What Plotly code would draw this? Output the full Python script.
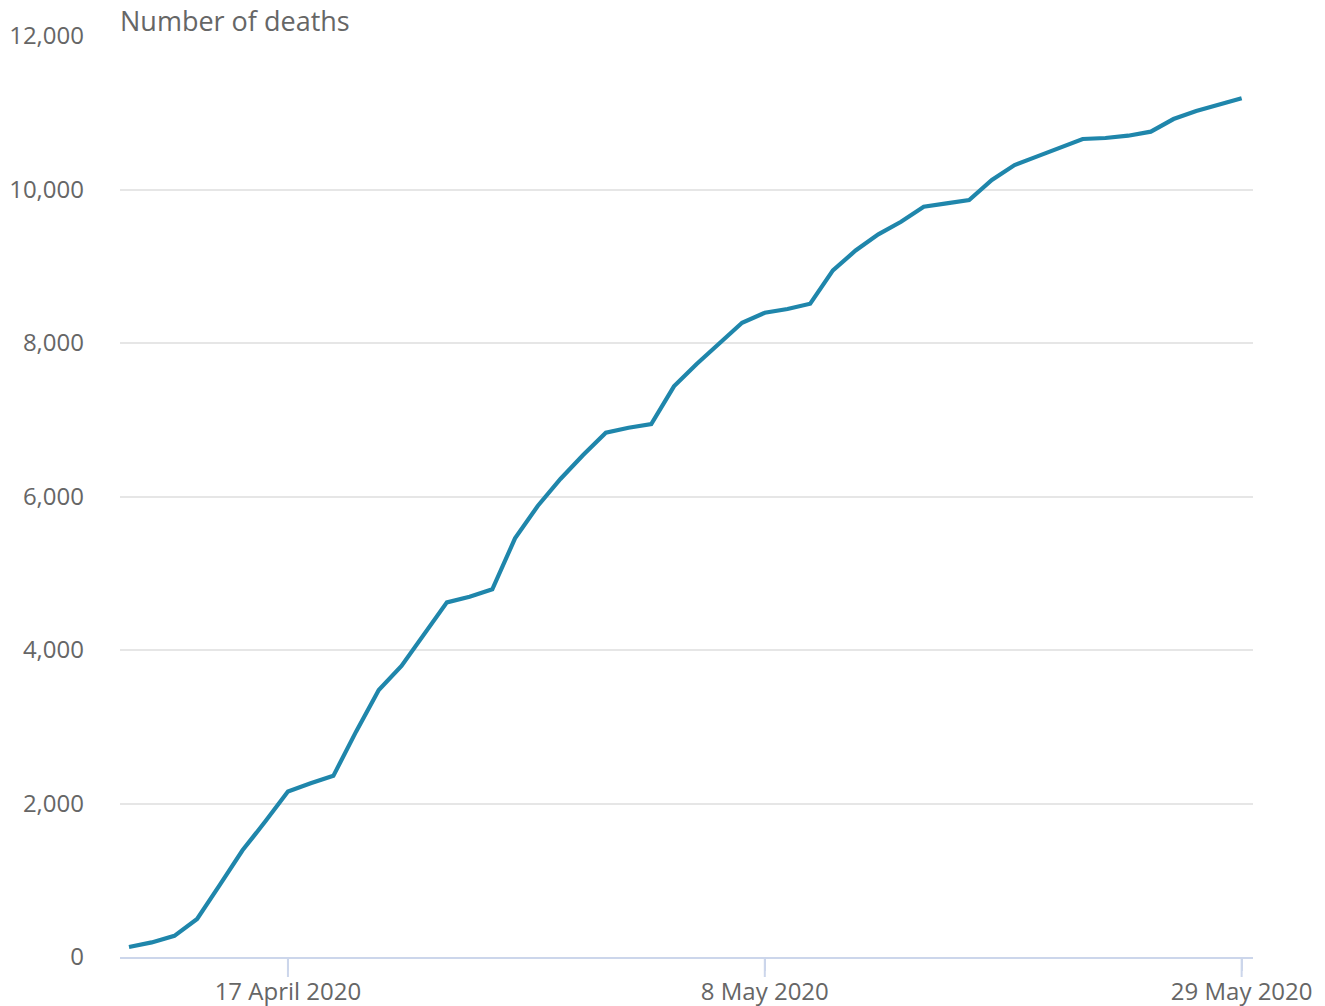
import plotly.graph_objects as go

dates = [
    "2020-04-10", "2020-04-11", "2020-04-12", "2020-04-13", "2020-04-14",
    "2020-04-15", "2020-04-16", "2020-04-17", "2020-04-18", "2020-04-19",
    "2020-04-20", "2020-04-21", "2020-04-22", "2020-04-23", "2020-04-24",
    "2020-04-25", "2020-04-26", "2020-04-27", "2020-04-28", "2020-04-29",
    "2020-04-30", "2020-05-01", "2020-05-02", "2020-05-03", "2020-05-04",
    "2020-05-05", "2020-05-06", "2020-05-07", "2020-05-08", "2020-05-09",
    "2020-05-10", "2020-05-11", "2020-05-12", "2020-05-13", "2020-05-14",
    "2020-05-15", "2020-05-16", "2020-05-17", "2020-05-18", "2020-05-19",
    "2020-05-20", "2020-05-21", "2020-05-22", "2020-05-23", "2020-05-24",
    "2020-05-25", "2020-05-26", "2020-05-27", "2020-05-28", "2020-05-29",
]

deaths = [
    130, 190, 275, 495, 940, 1390, 1765, 2155, 2263, 2360,
    2936, 3479, 3792, 4208, 4621, 4694, 4791, 5455, 5876, 6228,
    6541, 6831, 6896, 6945, 7435, 7726, 7995, 8264, 8394, 8443,
    8512, 8946, 9205, 9416, 9580, 9776, 9820, 9863, 10124, 10319,
    10432, 10545, 10658, 10671, 10701, 10754, 10918, 11023, 11110, 11188,
]

x_tick_vals = ["2020-04-17", "2020-05-08", "2020-05-29"]
x_tick_text = ["17 April 2020", "8 May 2020", "29 May 2020"]
y_tick_vals = [0, 2000, 4000, 6000, 8000, 10000, 12000]
y_tick_text = ["0", "2,000", "4,000", "6,000", "8,000", "10,000", "12,000"]

FONT = "Open Sans"
TXT = "#666666"
AXIS_COL = "#ccd6eb"

fig = go.Figure(
    go.Scatter(
        x=dates, y=deaths, mode="lines",
        line=dict(color="#1f86ab", width=4.2),
        hoverinfo="x+y", showlegend=False,
    )
)

# full-length tick marks (labels sit a little closer than plotly's default)
tick_shapes = [
    dict(type="line", xref="x", yref="paper", ysizemode="pixel", yanchor=0,
         x0=v, x1=v, y0=0, y1=-20, line=dict(color=AXIS_COL, width=2),
         layer="above")
    for v in x_tick_vals
]

fig.update_layout(
    width=1325, height=1006,
    margin=dict(l=120, r=72, t=36, b=49, autoexpand=False),
    paper_bgcolor="white", plot_bgcolor="white",
    font=dict(family=FONT, size=24, color=TXT),
    xaxis=dict(
        range=["2020-04-09 14:30", "2020-05-29 12:00"],
        tickmode="array", tickvals=x_tick_vals, ticktext=x_tick_text,
        showgrid=False, zeroline=False,
        showline=True, linecolor=AXIS_COL, linewidth=2,
        ticks="outside", ticklen=12, tickwidth=2, tickcolor=AXIS_COL,
        ticklabelstandoff=0,
        tickfont=dict(family=FONT, size=24, color=TXT),
    ),
    yaxis=dict(
        range=[0, 12000],
        tickmode="array", tickvals=y_tick_vals, ticktext=y_tick_text,
        showgrid=True, gridcolor="#e6e6e6", gridwidth=2,
        zeroline=False, showline=False, ticks="",
        ticklabelstandoff=35,
        tickfont=dict(family=FONT, size=24, color=TXT),
    ),
    shapes=tick_shapes,
    annotations=[
        dict(
            text="Number of deaths", xref="paper", yref="paper",
            x=0, y=1, xanchor="left", yanchor="middle", yshift=16, xshift=-2,
            showarrow=False, font=dict(family=FONT, size=27, color=TXT),
        )
    ],
)

fig.write_html(
    "out.html",
    config={"displayModeBar": False},
    post_script="document.body.style.margin='0';document.body.style.overflow='hidden';",
)
